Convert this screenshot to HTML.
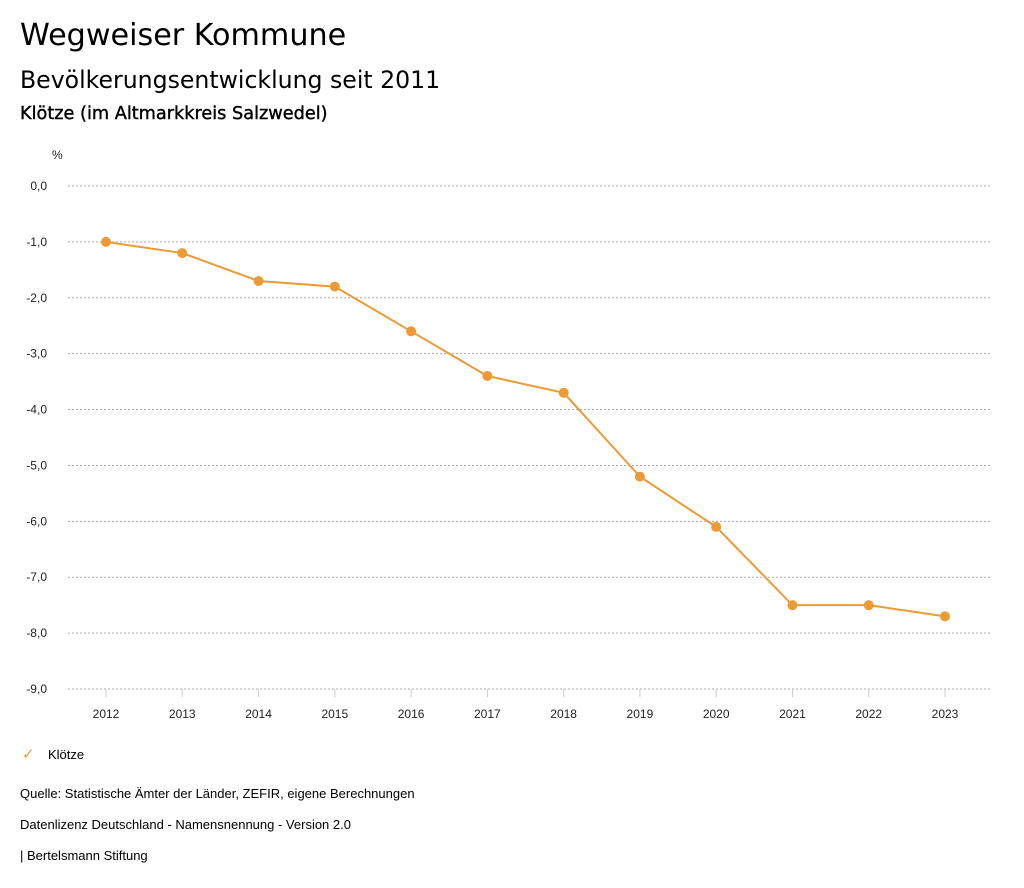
<!DOCTYPE html>
<html><head><meta charset="utf-8">
<style>
body{margin:0;background:#fff;font-family:"Liberation Sans",sans-serif;color:#000;}
.t{position:absolute;white-space:nowrap;}
.d{font-family:"DejaVu Sans",sans-serif;}
</style></head>
<body>
<div style="position:relative;width:1024px;height:888px;overflow:hidden">
<div class="t d" style="left:20px;top:18px;font-size:30.2px">Wegweiser Kommune</div>
<div class="t d" style="left:20px;top:66px;font-size:23.6px">Bevölkerungsentwicklung seit 2011</div>
<div class="t d" style="left:20px;top:104px;font-size:17.7px;-webkit-text-stroke:0.4px #000">Klötze (im Altmarkkreis Salzwedel)</div>
<svg id="chart" width="1024" height="740" style="position:absolute;left:0;top:0" font-family="Liberation Sans, sans-serif"></svg>
<div class="t" style="left:22px;top:745px;font-size:13px"><span style="color:#ec9a35;font-size:15px;display:inline-block;width:26px">✓</span>Klötze</div>
<div class="t" style="left:20px;top:786px;font-size:13px">Quelle: Statistische Ämter der Länder, ZEFIR, eigene Berechnungen</div>
<div class="t" style="left:20px;top:817px;font-size:13px">Datenlizenz Deutschland - Namensnennung - Version 2.0</div>
<div class="t" style="left:20px;top:848px;font-size:13px">| Bertelsmann Stiftung</div>
</div>
<script>
const years=[2012,2013,2014,2015,2016,2017,2018,2019,2020,2021,2022,2023];
const values=[-1.0,-1.2,-1.7,-1.8,-2.6,-3.4,-3.7,-5.2,-6.1,-7.5,-7.5,-7.7];
const yTicks=[0,-1,-2,-3,-4,-5,-6,-7,-8,-9];
const NS="http://www.w3.org/2000/svg";
const svg=document.getElementById('chart');
const y=v=>186+(0-v)/9*503;
const x=i=>106+i*(945-106)/(years.length-1);
function mk(tag,attrs){const e=document.createElementNS(NS,tag);for(const k in attrs)e.setAttribute(k,attrs[k]);svg.appendChild(e);return e;}
const pu=mk('text',{x:52,y:159,'font-size':12,fill:'#222'});pu.textContent='%';


yTicks.forEach(v=>{
 const l=mk('line',{x1:68,x2:990,y1:y(v),y2:y(v),stroke:'#aaa','stroke-dasharray':'2,2'});
 
 
 const t=mk('text',{x:47,y:y(v)+4,'font-size':12,'text-anchor':'end',fill:'#222'});
 t.textContent=v.toFixed(1).replace('.',',');
 
 
});
years.forEach((yr,i)=>{
 const l=mk('line',{x1:x(i),x2:x(i),y1:689,y2:697,stroke:'#ccc'});
 
 
 const t=mk('text',{x:x(i),y:718,'font-size':12,'text-anchor':'middle',fill:'#222'});
 t.textContent=yr;
 
 
});
const p=mk('polyline',{points:values.map((v,i)=>x(i)+','+y(v)).join(' '),fill:'none',stroke:'#ec9a35','stroke-width':2});


values.forEach((v,i)=>{
 const c=mk('circle',{cx:x(i),cy:y(v),r:5,fill:'#ec9a35'});
 
 
});
</script>
</body></html>
